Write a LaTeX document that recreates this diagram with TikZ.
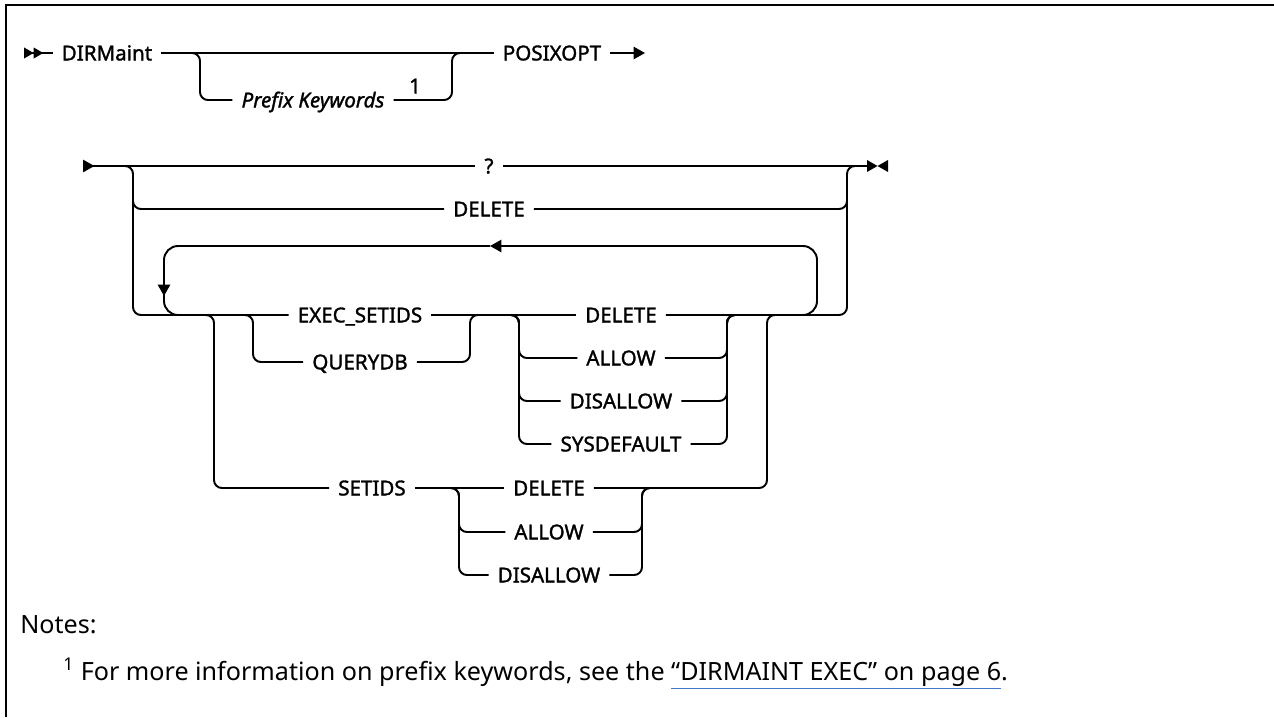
\documentclass[tikz,border=0pt]{standalone}
\usepackage{fontspec}
\setmainfont{Noto Sans}
\newfontfamily\railfont[FakeBold=1.5]{Noto Sans}
\usetikzlibrary{arrows.meta}
\definecolor{linkblue}{RGB}{70,120,200}

\begin{document}
\begin{tikzpicture}[
  x=0.02cm, y=-0.02cm,
  kw/.style={inner xsep=5pt, inner ysep=1pt, text height=8.4pt, text depth=0pt,
             font=\railfont\fontsize{11.7pt}{14pt}\selectfont},
  rail/.style={line width=1.1pt, rounded corners=4.5pt},
  repeatline/.style={line width=1.1pt, rounded corners=8pt},
  tipin/.tip={Triangle[reversed, length=6.5pt, width=7pt]},
  tipout/.tip={Triangle[length=6.5pt, width=7pt]}
]
  \useasboundingbox (0,0) rectangle (1274,717);
  \draw[line width=1.5pt] (6,717) -- (6,5) -- (1274,5);

  % first line
  \node[kw] (dirm) at (107,53) {DIRMaint};
  \node[kw, font=\railfont\itshape\fontsize{11.7pt}{14pt}\selectfont] (pfx) at (313,100) {Prefix Keywords};
  \node[kw, inner sep=0pt] (pfxnote) at (415,86) {1};
  \node[kw] (posix) at (552,53) {POSIXOPT};
  \draw[rail, {Triangle[reversed,length=5.5pt,width=6pt] Triangle[reversed,length=5.5pt,width=6pt]}-] (24,53) -- (dirm.west);
  \draw[rail] (dirm.east) -- (posix.west);
  \draw[rail] (190,53) -- (200,53) |- (pfx.west);
  \draw[rail] (pfx.east) -| (452,53) -- (462,53);
  \draw[rail, -{tipout}] (posix.east) -- (645,53);

  % second line
  \node[kw] (qm) at (489,166) {?};
  \node[kw] (del) at (489,209) {DELETE};
  \node[kw] (exec) at (360,315) {EXEC\_SETIDS};
  \node[kw] (qdb) at (360,362) {QUERYDB};
  \node[kw] (xdel) at (621,315) {DELETE};
  \node[kw] (xalw) at (621,358) {ALLOW};
  \node[kw] (xdis) at (621,401) {DISALLOW};
  \node[kw] (xsys) at (621,444) {SYSDEFAULT};
  \node[kw] (setids) at (372,488) {SETIDS};
  \node[kw] (sdel) at (549,488) {DELETE};
  \node[kw] (salw) at (549,532) {ALLOW};
  \node[kw] (sdis) at (549,575) {DISALLOW};

  \draw[rail, {tipin}-] (83,166) -- (qm.west);
  \draw[rail] (qm.east) -- (867,166);
  \fill (867,160) -- (877.5,166) -- (867,172) -- cycle;
  \fill (888,160) -- (877.5,166) -- (888,172) -- cycle;

  \draw[rail] (120,166) -| (133,315) -- (exec.west);
  \draw[rail] (133,195) |- (del.west);
  \draw[rail] (del.east) -| (847,195);
  \draw[rail] (exec.east) -- (xdel.west);
  \draw[rail] (xdel.east) -| (847,166) -- (860,166);

  \draw[repeatline, -{tipout}] (790,315) -| (817,246) -- (490,246);
  \draw[repeatline, -{tipout}] (490,246) -| (164,296);
  \draw[repeatline] (164,290) |- (195,315);

  \draw[rail] (243,315) -- (253,315) |- (qdb.west);
  \draw[rail] (qdb.east) -| (470,315) -- (480,315);

  \draw[rail] (509,315) -- (519,315) |- (xalw.west);
  \draw[rail] (509,315) -- (519,315) |- (xdis.west);
  \draw[rail] (509,315) -- (519,315) |- (xsys.west);
  \draw[rail] (xalw.east) -| (727,315) -- (737,315);
  \draw[rail] (xdis.east) -| (727,315) -- (737,315);
  \draw[rail] (xsys.east) -| (727,315) -- (737,315);

  \draw[rail] (204,315) -- (214,315) |- (setids.west);
  \draw[rail] (setids.east) -- (sdel.west);
  \draw[rail] (449,488) -- (459,488) |- (salw.west);
  \draw[rail] (449,488) -- (459,488) |- (sdis.west);
  \draw[rail] (salw.east) -| (642,488) -- (652,488);
  \draw[rail] (sdis.east) -| (642,488) -- (652,488);
  \draw[rail] (sdel.east) -| (767,315) -- (777,315);

  % notes
  \node[anchor=base west, inner sep=0pt, font=\fontsize{14.3pt}{17pt}\selectfont] (notes) at (20,633) {Notes:};
  \node[anchor=base west, inner sep=0pt, font=\fontsize{14.3pt}{17pt}\selectfont] (fn) at (63,680)
    {\textsuperscript{1} For more information on prefix keywords, see the {\color{linkblue}\underline{\textcolor{black}{“DIRMAINT EXEC” on page 6}}}.};
\end{tikzpicture}
\end{document}
